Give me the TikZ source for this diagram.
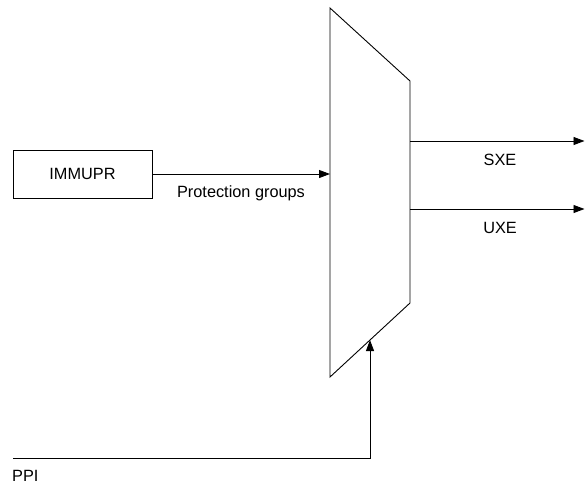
\documentclass[tikz,border=0pt]{standalone}
\usepackage{fontspec}
\setmainfont{Liberation Sans}
\usetikzlibrary{arrows.meta}
\begin{document}
\begin{tikzpicture}[x=1pt,y=-1pt,
  every node/.style={font=\fontsize{16.3}{19}\selectfont, inner sep=0pt},
  blockbox/.style={draw, line width=0.9pt, minimum width=139pt, minimum height=48pt},
  conn/.style={line width=0.9pt, -{Triangle[length=11pt,width=8pt]}},
  plainline/.style={line width=0.9pt},
  lbl/.style={anchor=center}]
\useasboundingbox (0,0) rectangle (585,484);
% mux corners
\coordinate (mtl) at (330,8);
\coordinate (mtr) at (410,81);
\coordinate (mbr) at (410,303);
\coordinate (mbl) at (330,377);
\draw[plainline] (mtl) -- (mtr) -- (mbr) -- (mbl) -- cycle;
% input box
\node[blockbox] (immupr) at (82.5,174) {IMMUPR};
\coordinate (min) at (330,174);
\draw[conn] (immupr.east) -- (min);
\node[lbl] (pglbl) at (241,193) {Protection groups};
% outputs
\coordinate (sxs) at (410,141);
\coordinate (sxe) at (584.5,141);
\coordinate (uxs) at (410,209);
\coordinate (uxe) at (584.5,209);
\draw[conn] (sxs) -- (sxe);
\draw[conn] (uxs) -- (uxe);
\node[lbl] (sxelbl) at (500,160) {SXE};
\node[lbl] (uxelbl) at (500,228) {UXE};
% PPI select
\coordinate (ppis) at (13,458);
\coordinate (ppic) at (370,458);
\coordinate (ppit) at (370,340);
\draw[conn] (ppis) -- (ppic) -- (ppit);
\node[anchor=west] (ppilbl) at (12,475.5) {PPI};
\end{tikzpicture}
\end{document}
